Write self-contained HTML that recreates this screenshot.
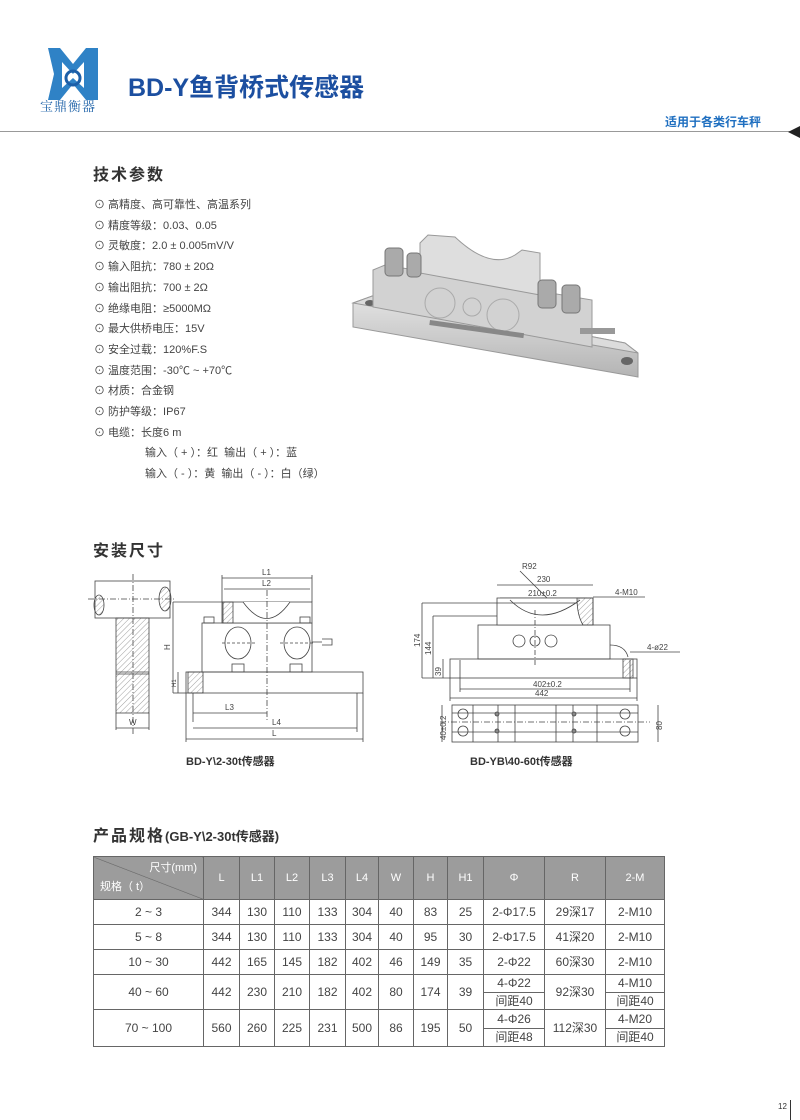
<!DOCTYPE html>
<html><head><meta charset="utf-8"><style>
body{margin:0;width:800px;height:1120px;position:relative;background:#fff;font-family:"Liberation Sans","Noto Sans CJK SC",sans-serif;color:#333;overflow:hidden}
.a{position:absolute;white-space:nowrap}
.h2{font-size:16px;font-weight:bold;color:#333;letter-spacing:2px}
.li{font-size:11px;color:#444}
table{border-collapse:collapse;position:absolute;left:93px;top:856px;table-layout:fixed;font-size:12px;color:#444}
td{border:1px solid #666;text-align:center;padding:0;line-height:1}
.hd td{background:#9c9c9c;color:#fff;font-size:11px}
.sp{display:flex;flex-direction:column;height:100%}
.sp div{flex:1;display:flex;align-items:center;justify-content:center}
.sp div+div{border-top:1px solid #666}
</style></head><body>
<!-- header -->
<svg class="a" style="left:40px;top:40px" width="80" height="75">
<polygon points="8,8 20,8 33,24 46,8 58,8 58,60 46,60 33,44 20,60 8,60 14,34" fill="#2f82c6"/>
<polygon points="22,22 33,34 44,22 44,48 33,38 22,48" fill="#fff"/>
<circle cx="33" cy="38" r="7" fill="none" stroke="#1d5fa8" stroke-width="3"/>
</svg>
<div class="a" style="left:40px;top:96px;font-size:13px;color:#1e62a8;font-family:'Noto Serif CJK SC',serif;letter-spacing:1px">宝鼎衡器</div>
<div class="a" style="left:128px;top:68px;font-size:25px;font-weight:bold;color:#1c4fa0">BD-Y鱼背桥式传感器</div>
<div class="a" style="left:665px;top:113px;font-size:12px;font-weight:bold;color:#1f6fc0">适用于各类行车秤</div>
<div class="a" style="left:0;top:131px;width:790px;height:1px;background:#999"></div>
<div class="a" style="left:788px;top:126px;width:0;height:0;border-top:6px solid transparent;border-bottom:6px solid transparent;border-right:12px solid #222"></div>

<!-- spec -->
<div class="a h2" style="left:93px;top:161px">技术参数</div>
<div class="a li" style="left:94px;top:195px;line-height:20.7px">
⊙ 高精度、高可靠性、高温系列<br>⊙ 精度等级：0.03、0.05<br>⊙ 灵敏度：2.0 ± 0.005mV/V<br>⊙ 输入阻抗：780 ± 20Ω<br>⊙ 输出阻抗：700 ± 2Ω<br>⊙ 绝缘电阻：≥5000MΩ<br>⊙ 最大供桥电压：15V<br>⊙ 安全过载：120%F.S<br>⊙ 温度范围：-30℃ ~ +70℃<br>⊙ 材质：合金钢<br>⊙ 防护等级：IP67<br>⊙ 电缆：长度6 m<br>
<span style="padding-left:51px">输入（ + ）：红&nbsp; 输出（ + ）：蓝</span><br>
<span style="padding-left:51px">输入（ - ）：黄&nbsp; 输出（ - ）：白（绿）</span></div>

<!-- photo -->
<svg class="a" style="left:340px;top:225px" width="300" height="180">
<defs><linearGradient id="g" x1="0" y1="0" x2="0" y2="1"><stop offset="0" stop-color="#e4e4e4"/><stop offset="1" stop-color="#b4b4b4"/></linearGradient></defs>
<polygon points="13,78 35,70 285,118 298,128 298,152 13,102" fill="url(#g)" stroke="#999"/>
<polygon points="13,78 35,70 285,118 298,128" fill="#dcdcdc" stroke="#999"/>
<ellipse cx="30" cy="78" rx="5" ry="3" fill="#666"/><ellipse cx="287" cy="136" rx="6" ry="4" fill="#666"/>
<polygon points="33,45 45,40 252,75 252,122 33,82" fill="#d2d2d2" stroke="#999"/>
<path d="M80,18 L88,10 L115,12 Q150,45 175,30 L182,25 L200,28 L200,70 L80,48 Z" fill="#dedede" stroke="#999"/>
<rect x="45" y="23" width="18" height="28" rx="4" fill="#aaa" stroke="#777"/><rect x="67" y="28" width="14" height="24" rx="4" fill="#aaa" stroke="#777"/>
<rect x="198" y="55" width="18" height="28" rx="4" fill="#aaa" stroke="#777"/><rect x="222" y="60" width="18" height="28" rx="4" fill="#aaa" stroke="#777"/>
<circle cx="100" cy="78" r="15" fill="none" stroke="#aaa"/><circle cx="132" cy="82" r="9" fill="none" stroke="#aaa"/><circle cx="163" cy="90" r="16" fill="none" stroke="#aaa"/>
<rect x="90" y="95" width="95" height="5" fill="#888" transform="rotate(8 90 95)"/>
<rect x="240" y="103" width="35" height="6" fill="#999"/>
</svg>

<!-- install dims -->
<div class="a h2" style="left:93px;top:537px">安装尺寸</div>
<svg class="a" style="left:80px;top:560px" width="600" height="215" font-family="Liberation Sans,sans-serif" font-size="8" fill="none" stroke="#444" stroke-width="0.8">
<defs><pattern id="h" width="4" height="4" patternUnits="userSpaceOnUse" patternTransform="rotate(45)"><line x1="0" y1="0" x2="0" y2="4" stroke="#888" stroke-width="0.8"/></pattern></defs>
<rect x="15" y="21" width="75" height="37"/>
<ellipse cx="85" cy="39" rx="6" ry="12" fill="url(#h)"/><ellipse cx="19" cy="45" rx="5" ry="10" fill="url(#h)"/>
<line x1="8" y1="39" x2="96" y2="39" stroke-dasharray="6 2 1 2"/>
<line x1="53" y1="14" x2="53" y2="175" stroke-dasharray="6 2 1 2"/>
<rect x="36" y="58" width="33" height="95" fill="url(#h)"/>
<line x1="36" y1="112" x2="69" y2="112"/><line x1="36" y1="114" x2="69" y2="114"/>
<line x1="36" y1="153" x2="36" y2="170"/><line x1="69" y1="153" x2="69" y2="170"/>
<line x1="36" y1="168" x2="69" y2="168"/><text x="49" y="165" stroke="none" fill="#444">W</text>
<rect x="106" y="112" width="177" height="21"/>
<rect x="108" y="112" width="15" height="21" fill="url(#h)"/>
<rect x="122" y="63" width="110" height="49"/>
<rect x="142" y="42" width="90" height="21" fill="#fff"/>
<rect x="143" y="42" width="10" height="21" fill="url(#h)"/>
<path d="M163,42 Q187,75 210,42" fill="#fff"/>
<ellipse cx="158" cy="83" rx="13" ry="16"/><ellipse cx="217" cy="83" rx="13" ry="16"/>
<line x1="142" y1="83" x2="175" y2="83" stroke-dasharray="3 2"/><line x1="200" y1="83" x2="234" y2="83" stroke-dasharray="3 2"/>
<line x1="187" y1="30" x2="187" y2="160" stroke-dasharray="6 2 1 2"/>
<rect x="152" y="104" width="12" height="8"/><rect x="210" y="104" width="12" height="8"/>
<rect x="124" y="57" width="10" height="6"/><rect x="220" y="57" width="10" height="6"/>
<path d="M232,82 h10 M242,79 h10 v6 h-10"/>
<line x1="142" y1="18" x2="232" y2="18"/><text x="182" y="15" stroke="none" fill="#444">L1</text>
<line x1="144" y1="29" x2="230" y2="29"/><text x="182" y="26" stroke="none" fill="#444">L2</text>
<line x1="142" y1="15" x2="142" y2="42"/><line x1="232" y1="15" x2="232" y2="42"/>
<line x1="93" y1="42" x2="142" y2="42"/><line x1="93" y1="42" x2="93" y2="133"/><line x1="93" y1="133" x2="106" y2="133"/>
<text x="90" y="90" stroke="none" fill="#444" transform="rotate(-90 90 90)">H</text>
<line x1="98" y1="112" x2="98" y2="133"/><text x="96" y="127" stroke="none" fill="#444" font-size="6" transform="rotate(-90 96 127)">H1</text>
<line x1="113" y1="133" x2="113" y2="162"/><line x1="106" y1="133" x2="106" y2="182"/><line x1="283" y1="133" x2="283" y2="182"/><line x1="277" y1="133" x2="277" y2="172"/>
<line x1="113" y1="153" x2="187" y2="153"/><text x="145" y="150" stroke="none" fill="#444">L3</text>
<line x1="113" y1="168" x2="277" y2="168"/><text x="192" y="165" stroke="none" fill="#444">L4</text>
<line x1="106" y1="179" x2="283" y2="179"/><text x="192" y="176" stroke="none" fill="#444">L</text>
<text x="442" y="9" stroke="none" fill="#444">R92</text><line x1="440" y1="11" x2="467" y2="38"/>
<line x1="417" y1="25" x2="513" y2="25"/><text x="457" y="22" stroke="none" fill="#444">230</text>
<line x1="420" y1="38" x2="507" y2="38"/><text x="448" y="36" stroke="none" fill="#444">210±0.2</text>
<rect x="398" y="65" width="132" height="34"/>
<path d="M417,38 V65 H513 V38 Z" fill="#fff"/>
<path d="M430,40 Q460,70 500,40"/>
<path d="M497,38 h16 v27 h-10 Q497,55 497,38Z" fill="url(#h)"/>
<rect x="370" y="99" width="187" height="19"/>
<rect x="543" y="99" width="10" height="19" fill="url(#h)"/>
<circle cx="439" cy="81" r="6"/><circle cx="455" cy="81" r="5"/><circle cx="471" cy="81" r="6"/>
<line x1="455" y1="50" x2="455" y2="105" stroke-dasharray="5 2 1 2"/>
<path d="M530,85 q15,0 18,12"/>
<line x1="342" y1="43" x2="497" y2="43"/><line x1="342" y1="43" x2="342" y2="118"/><line x1="342" y1="118" x2="370" y2="118"/>
<text x="340" y="87" stroke="none" fill="#444" transform="rotate(-90 340 87)">174</text>
<line x1="353" y1="56" x2="417" y2="56"/><line x1="353" y1="56" x2="353" y2="118"/>
<text x="351" y="95" stroke="none" fill="#444" transform="rotate(-90 351 95)">144</text>
<line x1="363" y1="99" x2="363" y2="118"/><text x="361" y="116" stroke="none" fill="#444" transform="rotate(-90 361 116)">39</text>
<line x1="513" y1="37" x2="565" y2="37"/><text x="535" y="35" stroke="none" fill="#444">4-M10</text>
<line x1="550" y1="92" x2="600" y2="92"/><text x="567" y="90" stroke="none" fill="#444">4-ø22</text>
<line x1="380" y1="100" x2="380" y2="132"/><line x1="550" y1="100" x2="550" y2="132"/>
<line x1="380" y1="129" x2="550" y2="129"/><text x="453" y="127" stroke="none" fill="#444">402±0.2</text>
<line x1="370" y1="138" x2="557" y2="138"/><line x1="370" y1="118" x2="370" y2="141"/><line x1="557" y1="118" x2="557" y2="141"/><text x="455" y="136" stroke="none" fill="#444">442</text>
<rect x="372" y="145" width="186" height="37"/>
<line x1="372" y1="153" x2="558" y2="153"/><line x1="372" y1="172" x2="558" y2="172"/>
<line x1="360" y1="162" x2="570" y2="162" stroke-dasharray="6 2 1 2"/>
<path d="M393,145v37M418,145v37M435,145v37M476,145v37M493,145v37M517,145v37"/>
<circle cx="383" cy="154" r="5"/><circle cx="383" cy="171" r="5"/><circle cx="545" cy="154" r="5"/><circle cx="545" cy="171" r="5"/>
<circle cx="417" cy="154" r="2" fill="#888"/><circle cx="417" cy="171" r="2" fill="#888"/><circle cx="494" cy="154" r="2" fill="#888"/><circle cx="494" cy="171" r="2" fill="#888"/>
<line x1="362" y1="145" x2="362" y2="182"/><text x="366" y="180" stroke="none" fill="#444" transform="rotate(-90 366 180)">40±0.2</text>
<line x1="578" y1="145" x2="578" y2="182"/><text x="582" y="170" stroke="none" fill="#444" transform="rotate(-90 582 170)">80</text>
</svg>
<div class="a" style="left:186px;top:753px;font-size:11px;font-weight:bold;color:#333">BD-Y\2-30t传感器</div>
<div class="a" style="left:470px;top:753px;font-size:11px;font-weight:bold;color:#333">BD-YB\40-60t传感器</div>

<!-- table -->
<div class="a" style="left:93px;top:822px;color:#333"><span class="h2">产品规格</span><span style="font-size:13px;font-weight:bold">(GB-Y\2-30t传感器)</span></div>
<table>
<colgroup><col style="width:110px"><col style="width:36px"><col style="width:35px"><col style="width:35px"><col style="width:36px"><col style="width:33px"><col style="width:35px"><col style="width:34px"><col style="width:36px"><col style="width:61px"><col style="width:61px"><col style="width:59px"></colgroup>
<tr class="hd" style="height:43px"><td style="position:relative;background:linear-gradient(to top right,#9c9c9c 49.5%,#666 50%,#9c9c9c 51%)"><span style="position:absolute;right:6px;top:6px">尺寸(mm)</span><span style="position:absolute;left:6px;bottom:6px">规格（ t）</span></td><td>L</td><td>L1</td><td>L2</td><td>L3</td><td>L4</td><td>W</td><td>H</td><td>H1</td><td>Φ</td><td>R</td><td>2-M</td></tr>
<tr style="height:25px"><td>2 ~ 3</td><td>344</td><td>130</td><td>110</td><td>133</td><td>304</td><td>40</td><td>83</td><td>25</td><td>2-Φ17.5</td><td>29深17</td><td>2-M10</td></tr>
<tr style="height:25px"><td>5 ~ 8</td><td>344</td><td>130</td><td>110</td><td>133</td><td>304</td><td>40</td><td>95</td><td>30</td><td>2-Φ17.5</td><td>41深20</td><td>2-M10</td></tr>
<tr style="height:25px"><td>10 ~ 30</td><td>442</td><td>165</td><td>145</td><td>182</td><td>402</td><td>46</td><td>149</td><td>35</td><td>2-Φ22</td><td>60深30</td><td>2-M10</td></tr>
<tr style="height:34px"><td>40 ~ 60</td><td>442</td><td>230</td><td>210</td><td>182</td><td>402</td><td>80</td><td>174</td><td>39</td><td style="height:34px"><div class="sp"><div>4-Φ22</div><div>间距40</div></div></td><td>92深30</td><td style="height:34px"><div class="sp"><div>4-M10</div><div>间距40</div></div></td></tr>
<tr style="height:36px"><td>70 ~ 100</td><td>560</td><td>260</td><td>225</td><td>231</td><td>500</td><td>86</td><td>195</td><td>50</td><td style="height:36px"><div class="sp"><div>4-Φ26</div><div>间距48</div></div></td><td>112深30</td><td style="height:36px"><div class="sp"><div>4-M20</div><div>间距40</div></div></td></tr>
</table>
<div class="a" style="left:778px;top:1102px;font-size:8px;color:#333">12</div>
<div class="a" style="left:790px;top:1100px;width:1px;height:20px;background:#333"></div>
</body></html>
